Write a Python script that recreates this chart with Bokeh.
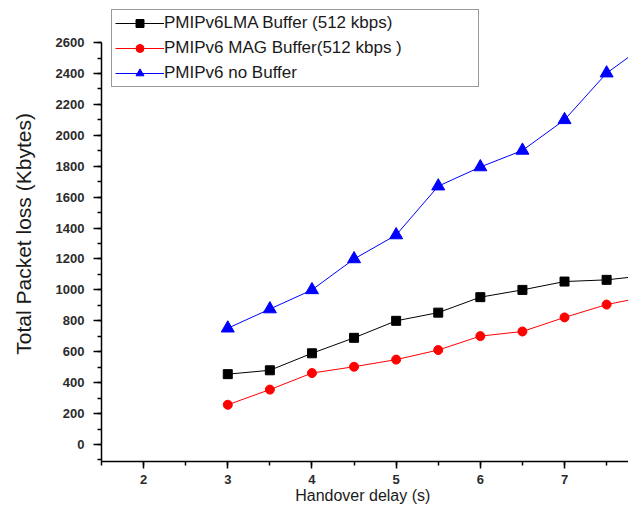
from bokeh.plotting import figure
from bokeh.models import Range1d, SingleIntervalTicker, Legend, LegendItem
from bokeh.embed import file_html
from bokeh.resources import INLINE

# ---- data ----
handover_delay = [3, 3.5, 4, 4.5, 5, 5.5, 6, 6.5, 7, 7.5, 8]
lma_buffer = [455, 480, 590, 690, 800, 853, 953, 1000, 1054, 1065, 1095]
mag_buffer = [257, 355, 462, 503, 549, 611, 701, 731, 822, 905, 960]
no_buffer = [752, 876, 1000, 1200, 1355, 1671, 1795, 1902, 2100, 2402, 2600]

series_names = ["PMIPv6LMA Buffer (512 kbps)",
                "PMIPv6 MAG Buffer(512 kbps )",
                "PMIPv6 no Buffer"]

x_label = "Handover delay  (s)"
y_label = "Total Packet loss  (Kbytes)"

p = figure(width=628, height=508, output_backend="svg", toolbar_location=None,
           x_range=Range1d(1.5, 7.76), y_range=Range1d(-110, 2872),
           min_border_left=101, min_border_right=0, min_border_top=0,
           min_border_bottom=47)
p.background_fill_color = "white"
p.border_fill_color = "white"
p.outline_line_color = None
p.xgrid.visible = False
p.ygrid.visible = False

# series
r1 = p.line(handover_delay, lma_buffer, line_color="black", line_width=1)
s1 = p.scatter(handover_delay, lma_buffer, marker="square", size=9,
               fill_color="black", line_color="black")
r2 = p.line(handover_delay, mag_buffer, line_color="#ff0000", line_width=1)
s2 = p.scatter(handover_delay, mag_buffer, marker="circle", size=9,
               fill_color="#ff0000", line_color="#ff0000")
r3 = p.line(handover_delay, no_buffer, line_color="#0000ff", line_width=1)
s3 = p.scatter(handover_delay, no_buffer, marker="triangle", size=13,
               fill_color="#0000ff", line_color="#0000ff")

# axes
for ax in (p.xaxis[0], p.yaxis[0]):
    ax.axis_line_color = "black"
    ax.axis_line_width = 1.5
    ax.major_tick_line_color = "black"
    ax.major_tick_line_width = 1.5
    ax.minor_tick_line_color = "black"
    ax.minor_tick_line_width = 1.5
    ax.major_tick_in = 0
    ax.minor_tick_in = 0
    ax.major_label_text_font = "Liberation Sans"
    ax.major_label_text_font_size = "13px"
    ax.major_label_text_font_style = "bold"
    ax.major_label_text_color = "#2b2b2b"
    ax.axis_label_text_font = "Liberation Sans"
    ax.axis_label_text_font_style = "normal"
    ax.axis_label_text_color = "#1a1a1a"

p.xaxis.ticker = SingleIntervalTicker(interval=1, num_minor_ticks=2)
p.yaxis.ticker = SingleIntervalTicker(interval=200, num_minor_ticks=2)
p.yaxis.bounds = (-110, 2600)
p.xaxis.major_tick_out = 7
p.xaxis.minor_tick_out = 4
p.yaxis.major_tick_out = 8
p.yaxis.minor_tick_out = 4
p.xaxis.major_label_standoff = 6
p.yaxis.major_label_standoff = 9
p.xaxis.axis_label = x_label
p.yaxis.axis_label = y_label
p.xaxis.axis_label_text_font_size = "16px"
p.yaxis.axis_label_text_font_size = "21px"
p.xaxis.axis_label_standoff = 0
p.yaxis.axis_label_standoff = 18

legend = Legend(items=[
    LegendItem(label=series_names[0], renderers=[r1, s1]),
    LegendItem(label=series_names[1], renderers=[r2, s2]),
    LegendItem(label=series_names[2], renderers=[r3, s3]),
], location=(10, 374))
legend.border_line_color = "#333333"
legend.border_line_width = 1.5
legend.background_fill_color = "white"
legend.background_fill_alpha = 1
legend.padding = 3
legend.spacing = 5
legend.margin = 0
legend.glyph_width = 49
legend.glyph_height = 20
legend.label_height = 20
legend.label_width = 311
legend.label_standoff = 0
legend.label_text_font = "Liberation Sans"
legend.label_text_font_size = "17px"
legend.label_text_color = "#1a1a1a"
p.add_layout(legend)

open("out.html", "w").write(file_html(p, INLINE))
